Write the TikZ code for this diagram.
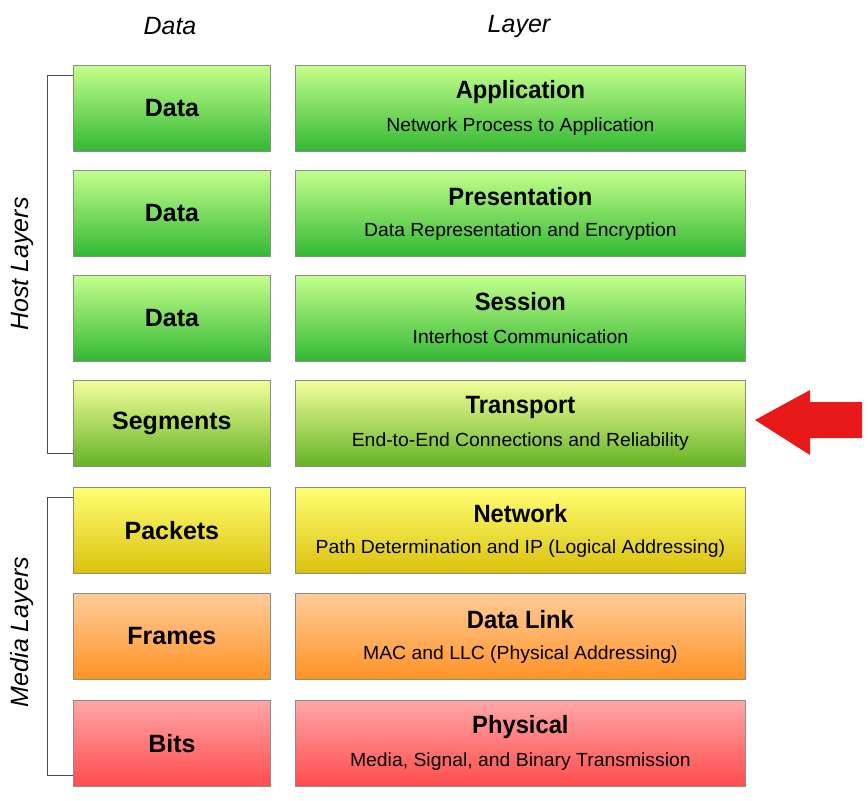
\documentclass[tikz,border=0pt]{standalone}
\usepackage{fontspec}
\setmainfont{Liberation Sans}
\begin{document}
\begin{tikzpicture}[x=1pt,y=-1pt,
 box/.style={draw=black!45,line width=0.8pt,minimum height=86pt,anchor=north west,align=center,inner sep=0pt},
 lbox/.style={box,minimum width=197pt,font=\bfseries\fontsize{25}{28}\selectfont},
 rbox/.style={box,minimum width=450pt},
 t/.style={font=\bfseries\fontsize{25}{28}\selectfont,inner sep=0pt},
 s/.style={font=\fontsize{19}{22}\selectfont,inner sep=0pt},
 hdr/.style={font=\itshape\fontsize{25}{28}\selectfont},
 br/.style={draw=black!70,line width=0.9pt}]
\useasboundingbox (0,0) rectangle (868,801);
\fill[white] (0,0) rectangle (868,801);
\node[hdr] (hd) at (170,26) {Data};
\node[hdr] (hl) at (519,26) {Layer};
\def\row#1#2#3#4#5#6#7{%
 \node[lbox,top color=#6,bottom color=#7] (l#1) at (73,#2) {#3};
 \node[rbox,top color=#6,bottom color=#7] (r#1) at (295,#2) {};
 \node[t,xscale=0.95] (t#1) at ([yshift=-27pt]r#1.north) {#4};
 \node[s,xscale=1.02] (s#1) at ([yshift=-62pt]r#1.north) {#5};}
\row{1}{65}{Data}{Application}{Network Process to Application}{green!35!lime!45!white}{green!65!black!80!white}
\row{2}{170}{Data}{Presentation}{Data Representation and Encryption}{green!35!lime!45!white}{green!65!black!80!white}
\row{3}{275}{Data}{Session}{Interhost Communication}{green!35!lime!45!white}{green!65!black!80!white}
\row{4}{380}{Segments}{Transport}{End-to-End Connections and Reliability}{lime!50!yellow!40!white}{lime!60!green!65!black!85!white}
\row{5}{487}{Packets}{Network}{Path Determination and IP (Logical Addressing)}{yellow!55!white}{yellow!75!orange!85!black!95}
\row{6}{593}{Frames}{Data Link}{MAC and LLC (Physical Addressing)}{orange!40!white}{orange!85!white}
\row{7}{700}{Bits}{Physical}{Media, Signal, and Binary Transmission}{red!35!white}{red!70!white}
\coordinate (h1) at (47,75); \coordinate (h2) at (47,453);
\draw[br] (l1.north west|-h1) -- (h1) -- (h2) -- (l4.south west|-h2);
\coordinate (m1) at (47,497); \coordinate (m2) at (47,775);
\draw[br] (l5.north west|-m1) -- (m1) -- (m2) -- (l7.south west|-m2);
\node[hdr,rotate=90] (hlab) at (22,264) {Host Layers};
\node[hdr,rotate=90] (mlab) at (22,632) {Media Layers};
\fill[red!90!black!90!white,draw=none] (755,420) -- (810,390) -- (810,402) -- (862,402) -- (862,438) -- (810,438) -- (810,455) -- cycle;
\end{tikzpicture}
\end{document}
